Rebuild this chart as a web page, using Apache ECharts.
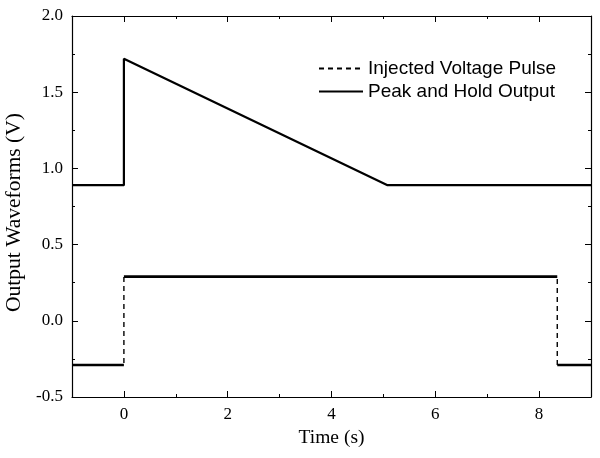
<!DOCTYPE html>
<html>
<head>
<meta charset="utf-8">
<script src="https://cdn.jsdelivr.net/npm/echarts@6/dist/echarts.min.js"></script>
<style>html,body{margin:0;padding:0;background:#fff}#c{width:600px;height:458px}</style>
</head>
<body>
<div id="c"></div>
<script>
// Data
const pulseTime = [-1, 0, 0, 8.35, 8.35, 9];
const pulseVolt = [-0.29, -0.29, 0.29, 0.29, -0.29, -0.29];
const holdTime = [-1, 0, 0, 5.08, 9];
const holdVolt = [0.89, 0.89, 1.72, 0.89, 0.89];
const xMajorTicks = [0, 2, 4, 6, 8];
const xMinorTicks = [1, 3, 5, 7];

const pulseData = pulseTime.map((t, i) => [t, pulseVolt[i]]);
const holdData = holdTime.map((t, i) => [t, holdVolt[i]]);
// horizontal (level) segments of the pulse, drawn solid & heavier as in the noisy trace
const pulseLevels = [];
for (let i = 0; i < pulseData.length - 1; i++) {
  if (pulseVolt[i] === pulseVolt[i + 1] && pulseTime[i] !== pulseTime[i + 1]) {
    pulseLevels.push(pulseData[i], pulseData[i + 1], '-');
  }
}

const serif = 'Liberation Serif';
const sans = 'Liberation Sans';
const xBase = {
  type: 'value', min: -1, max: 9, interval: 1,
  axisLine: { show: true, onZero: false, lineStyle: { color: '#000', width: 1.2 } },
  splitLine: { show: false },
};

const chart = echarts.init(document.getElementById('c'), null, { renderer: 'canvas' });
chart.setOption({
  backgroundColor: '#fff',
  animation: false,
  grid: { left: 72, right: 9, top: 16, bottom: 61, containLabel: false, outerBoundsMode: 'none' },
  legend: {
    data: ['Injected Voltage Pulse', 'Peak and Hold Output'],
    orient: 'vertical', left: 313, top: 54, itemWidth: 44, itemHeight: 14, itemGap: 4,
    itemStyle: { opacity: 0 },
    textStyle: { fontFamily: sans, fontSize: 19, color: '#000' },
    selectedMode: false
  },
  xAxis: [
    Object.assign({}, xBase, {
      position: 'bottom',
      name: 'Time (s)', nameLocation: 'middle', nameGap: 28,
      nameTextStyle: { fontFamily: serif, fontSize: 19.5, color: '#000' },
      axisTick: { show: true, inside: true, length: 6, customValues: xMajorTicks, lineStyle: { color: '#000' } },
      axisLabel: { show: true, customValues: xMajorTicks, margin: 9, fontFamily: serif, fontSize: 17, color: '#000' }
    }),
    Object.assign({}, xBase, {
      position: 'bottom',
      axisLine: { show: false, onZero: false },
      axisTick: { show: true, inside: true, length: 3, customValues: xMinorTicks, lineStyle: { color: '#000' } },
      axisLabel: { show: false }
    }),
    Object.assign({}, xBase, {
      position: 'top',
      axisTick: { show: true, inside: true, length: 6, customValues: xMajorTicks, lineStyle: { color: '#000' } },
      axisLabel: { show: false }
    }),
    Object.assign({}, xBase, {
      position: 'top',
      axisLine: { show: false, onZero: false },
      axisTick: { show: true, inside: true, length: 3, customValues: xMinorTicks, lineStyle: { color: '#000' } },
      axisLabel: { show: false }
    })
  ],
  yAxis: [
    {
      type: 'value', min: -0.5, max: 2, interval: 0.5, position: 'left',
      name: 'Output Waveforms (V)', nameLocation: 'middle', nameGap: 24,
      nameTextStyle: { fontFamily: serif, fontSize: 21.5, color: '#000', padding: [0, 12, 0, 0] },
      axisLine: { show: true, onZero: false, lineStyle: { color: '#000', width: 1.2 } },
      axisTick: { show: true, inside: true, length: 6, lineStyle: { color: '#000' } },
      minorTick: { show: true, splitNumber: 2, length: 3, lineStyle: { color: '#000' } },
      splitLine: { show: false },
      axisLabel: { margin: 9, fontFamily: serif, fontSize: 17, color: '#000', formatter: v => v.toFixed(1) }
    },
    {
      type: 'value', min: -0.5, max: 2, interval: 0.5, position: 'right',
      axisLine: { show: true, onZero: false, lineStyle: { color: '#000', width: 1.2 } },
      axisTick: { show: true, inside: true, length: 6, lineStyle: { color: '#000' } },
      minorTick: { show: true, splitNumber: 2, length: 3, lineStyle: { color: '#000' } },
      splitLine: { show: false },
      axisLabel: { show: false }
    }
  ],
  series: [
    {
      name: 'Injected Voltage Pulse', type: 'line', data: pulseData,
      symbol: 'none', xAxisIndex: 0, yAxisIndex: 0,
      lineStyle: { color: '#000', width: 1.4, type: [5, 4] },
      itemStyle: { color: '#000' }
    },
    {
      name: 'pulseLevels', type: 'line', data: pulseLevels,
      symbol: 'none', xAxisIndex: 0, yAxisIndex: 0, connectNulls: false,
      lineStyle: { color: '#000', width: 2.6 }
    },
    {
      name: 'Peak and Hold Output', type: 'line', data: holdData,
      symbol: 'none', xAxisIndex: 0, yAxisIndex: 0,
      lineStyle: { color: '#000', width: 2.2 },
      itemStyle: { color: '#000' }
    }
  ]
});
</script>
</body>
</html>
